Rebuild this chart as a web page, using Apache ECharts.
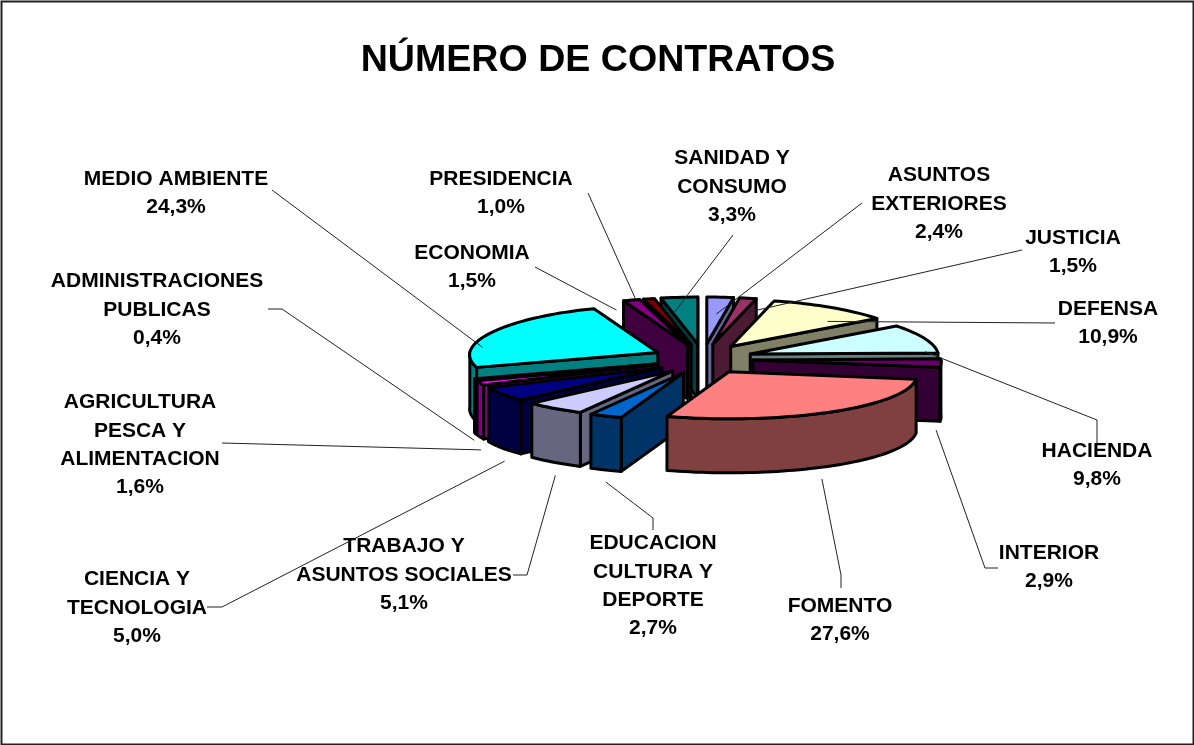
<!DOCTYPE html>
<html>
<head>
<meta charset="utf-8">
<title>Número de contratos</title>
<style>
    html, body { margin: 0; padding: 0; background: #fff; }
    #chart { width: 1194px; height: 745px; }
</style>
<script src="https://cdn.jsdelivr.net/npm/echarts@6/dist/echarts.min.js"></script>
</head>
<body>
<div id="chart"></div>
<script>
// Data, clockwise from 12 o'clock
const categories = ['ASUNTOS\nEXTERIORES', 'JUSTICIA', 'DEFENSA', 'HACIENDA', 'INTERIOR', 'FOMENTO',
    'EDUCACION\nCULTURA Y\nDEPORTE', 'TRABAJO Y\nASUNTOS SOCIALES', 'CIENCIA Y\nTECNOLOGIA',
    'AGRICULTURA\nPESCA Y\nALIMENTACION', 'ADMINISTRACIONES\nPUBLICAS', 'MEDIO AMBIENTE',
    'ECONOMIA', 'PRESIDENCIA', 'SANIDAD Y\nCONSUMO'];
const shares = [2.4, 1.5, 10.9, 9.8, 2.9, 27.6, 2.7, 5.1, 5.0, 1.6, 0.4, 24.3, 1.5, 1.0, 3.3];
const topColors = ['#9999FF', '#993366', '#FFFFCC', '#CCFFFF', '#660066', '#FF8080', '#0066CC', '#CCCCFF',
    '#000080', '#FF00FF', '#FFFF00', '#00FFFF', '#800080', '#800000', '#008080'];
const sideColors = ['#666699', '#4D1A33', '#808066', '#668080', '#330033', '#804040', '#003366', '#666680',
    '#000040', '#800080', '#808000', '#008080', '#400040', '#400000', '#004040'];

// Label layout: text centre, leader elbow points, offset of the leader end from the slice rim
const labelLayout = [
    { at: [939, 204], path: [[862, 203]], end: [-4, 17] },
    { at: [1073, 252], path: [[1022, 250]], end: [0, 14] },
    { at: [1108, 323], path: [[1055, 323]], end: [-3, 14] },
    { at: [1097, 465], path: [[1097, 443], [1097, 420]], end: [0, 13] },
    { at: [1049, 567], path: [[998, 568], [985, 568]], end: [-5, 67] },
    { at: [840, 620], path: [[841, 588], [841, 575]], end: [-9, 67] },
    { at: [653, 586], path: [[653, 530], [653, 518]], end: [0, 66] },
    { at: [404, 575], path: [[513, 575], [527, 575]], end: [1, 67] },
    { at: [137, 608], path: [[207, 607], [222, 607]], end: [2, 67] },
    { at: [140, 445], path: [[222, 443]], end: [1, 67] },
    { at: [157, 310], path: [[268, 309], [282, 309]], end: [-1, 61] },
    { at: [176, 193], path: [[272, 190]], end: [-9, 15] },
    { at: [472, 267], path: [[535, 267]], end: [-15, 10] },
    { at: [501, 193], path: [[588, 193]], end: [-13, 1] },
    { at: [732, 187], path: [[733, 235]], end: [-5, 15] }
];

// Pie geometry
const CENTER_X = 703;
const CENTER_Y = 359;
const RADIUS_X = 188;
const RADIUS_Y = 47;
const DEPTH = 54;
const EXPLODE_X = 50;
const EXPLODE_Y = 15;
const PERSPECTIVE = 0.05; // front of the pie drawn slightly wider than the back

const total = shares.reduce((a, b) => a + b, 0);
let running = 0;
const slices = shares.map((value, i) => {
    const start = running / total * Math.PI * 2;
    running += value;
    const end = running / total * Math.PI * 2;
    return { i, value, start, end, mid: (start + end) / 2 };
});

function rimPoint(tip, angle, drop) {
    return [
        tip[0] + RADIUS_X * Math.sin(angle) * (1 - PERSPECTIVE * Math.cos(angle)),
        tip[1] - RADIUS_Y * Math.cos(angle) + (drop || 0)
    ];
}

function sliceTip(s) {
    return [
        CENTER_X + EXPLODE_X * Math.sin(s.mid),
        CENTER_Y - EXPLODE_Y * Math.cos(s.mid)
    ];
}

function arcPoints(tip, from, to, drop) {
    const steps = Math.max(2, Math.ceil((to - from) / 0.03));
    const pts = [];
    for (let k = 0; k <= steps; k++) {
        pts.push(rimPoint(tip, from + (to - from) * k / steps, drop));
    }
    return pts;
}

// Lowest screen point of the top face, used for the painter's order
function lowestY(s) {
    const tip = sliceTip(s);
    const ys = [tip].concat(arcPoints(tip, s.start, s.end, 0)).map(p => p[1]);
    return Math.max.apply(null, ys);
}

function polygon(points, fill) {
    return {
        type: 'polygon',
        shape: { points },
        style: { fill, stroke: '#000', lineWidth: 3, lineJoin: 'round' }
    };
}

// A radial cut is visible when the slice's top face lies above it on screen
function wallFaces(tip, edge, other) {
    let dx = edge[0] - tip[0];
    let dy = edge[1] - tip[1];
    if (dx < 0) { dx = -dx; dy = -dy; }
    return dx * (other[1] - tip[1]) - dy * (other[0] - tip[0]) < 0;
}

function renderSlice(params, api) {
    const s = slices[api.value(0)];
    const tip = sliceTip(s);
    const side = sideColors[s.i];
    const children = [];
    const p0 = rimPoint(tip, s.start);
    const p1 = rimPoint(tip, s.end);
    const down = p => [p[0], p[1] + DEPTH];

    [[p0, p1], [p1, p0]].forEach(([edge, other]) => {
        if (wallFaces(tip, edge, other)) {
            children.push(polygon([tip, edge, down(edge), down(tip)], side));
        }
    });

    // outer wall only on the front half of the ellipse
    const from = Math.max(s.start, Math.PI / 2);
    const to = Math.min(s.end, Math.PI * 1.5);
    if (to > from) {
        const upper = arcPoints(tip, from, to, 0);
        const lower = arcPoints(tip, from, to, DEPTH).reverse();
        children.push(polygon(upper.concat(lower), side));
    }

    children.push(polygon([tip].concat(arcPoints(tip, s.start, s.end, 0)), topColors[s.i]));
    return { type: 'group', children };
}

function renderLabel(params, api) {
    const i = api.value(0);
    const s = slices[i];
    const layout = labelLayout[i];
    const rim = rimPoint(sliceTip(s), s.mid);
    const points = layout.path.concat([[rim[0] + layout.end[0], rim[1] + layout.end[1]]]);
    return {
        type: 'group',
        children: [
            {
                type: 'polyline',
                shape: { points },
                style: { fill: 'none', stroke: '#222', lineWidth: 1 }
            },
            {
                type: 'text',
                style: {
                    text: categories[i] + '\n' + shares[i].toFixed(1).replace('.', ',') + '%',
                    x: layout.at[0],
                    y: layout.at[1],
                    align: 'center',
                    verticalAlign: 'middle',
                    fontFamily: '"Liberation Sans", Arial, sans-serif',
                    fontWeight: 'bold',
                    fontSize: 21,
                    lineHeight: 28.3,
                    fill: '#000'
                }
            }
        ]
    };
}

// back slices first
const drawOrder = slices.slice().sort((a, b) => lowestY(a) - lowestY(b)).map(s => [s.i]);

const myChart = echarts.init(document.getElementById('chart'));
myChart.setOption({
    animation: false,
    backgroundColor: '#fff',
    title: {
        text: 'NÚMERO DE CONTRATOS',
        left: 593,
        top: 37,
        textAlign: 'center',
        textStyle: {
            fontFamily: '"Liberation Sans", Arial, sans-serif',
            fontWeight: 'bold',
            fontSize: 37.6,
            color: '#000'
        }
    },
    graphic: [{
        type: 'rect',
        shape: { x: 1.5, y: 1.5, width: 1192, height: 743 },
        style: { fill: 'none', stroke: '#222', lineWidth: 2 },
        silent: true
    }],
    series: [
        { type: 'custom', coordinateSystem: 'none', renderItem: renderSlice, data: drawOrder, silent: true, z: 2 },
        { type: 'custom', coordinateSystem: 'none', renderItem: renderLabel, data: shares.map((v, i) => [i]), silent: true, z: 3 }
    ]
});
</script>
</body>
</html>
